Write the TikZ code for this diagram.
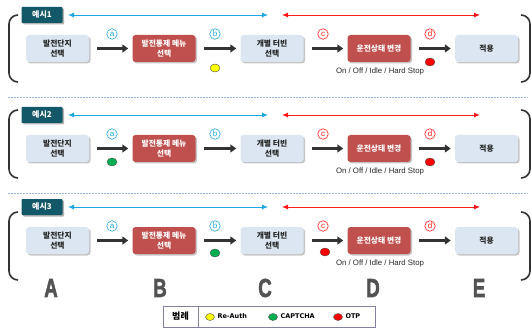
\documentclass[tikz,border=0pt]{standalone}
\usepackage{fontspec}
\setmainfont{Liberation Sans}
\newfontfamily\krfont{Noto Sans CJK KR}
\newfontfamily\legendfont{DejaVu Sans}
\newfontfamily\letterfont{Liberation Sans}[BoldFeatures={FakeBold=2.5}]
\usetikzlibrary{arrows.meta,shadows,shapes.geometric}

\definecolor{tagteal}{HTML}{135868}
\definecolor{boxblue}{HTML}{DCE6F2}
\definecolor{boxred}{HTML}{C0504D}
\definecolor{skyline}{HTML}{1FA8E0}
\definecolor{alertline}{HTML}{FF1A1A}
\definecolor{flowgray}{HTML}{333333}
\definecolor{sepblue}{HTML}{9DB8E0}
\definecolor{legendframe}{HTML}{8080A0}
\definecolor{dotyellow}{HTML}{FFFF00}
\definecolor{dotgreen}{HTML}{00B050}
\definecolor{dotred}{HTML}{FF0000}

\tikzset{
  stagebox/.style={rounded corners=3pt, minimum width=63pt, minimum height=27pt,
    align=center, inner sep=1pt,
    font=\krfont\bfseries\fontsize{7.8}{10}\selectfont,
    drop shadow={shadow xshift=1.5pt, shadow yshift=-1.5pt, fill=black!45, opacity=0.5}},
  lightbox/.style={stagebox, fill=boxblue, text=black!85},
  redbox/.style={stagebox, fill=boxred, text=white},
  tagbox/.style={fill=tagteal, minimum width=41pt, minimum height=16pt, inner sep=0pt,
    rounded corners=0.8pt, text=white, font=\krfont\bfseries\fontsize{8}{8}\selectfont,
    drop shadow={shadow xshift=1.5pt, shadow yshift=-1.5pt, fill=black!50, opacity=0.6}},
  flowarrow/.style={draw=flowgray, line width=2.6pt,
    -{Triangle[length=6pt,width=8pt]}, shorten <=8pt, shorten >=4pt},
  spanline/.style={line width=0.9pt,
    {Latex[length=6pt,width=5pt]}-{Latex[length=6pt,width=5pt]}},
  stepmark/.style={circle, draw, line width=0.6pt, inner sep=0pt, minimum size=10.5pt,
    font=\fontsize{8}{8}\selectfont},
  bluemark/.style={stepmark, draw=skyline, text=skyline},
  redmark/.style={stepmark, draw=alertline, text=alertline},
  authdot/.style={ellipse, draw=black!70, line width=0.4pt, minimum width=10pt,
    minimum height=8pt, inner sep=0pt},
  modetext/.style={font=\fontsize{7.8}{8}\selectfont, text=black!85},
  bracketline/.style={draw=flowgray, line width=1.6pt},
  sepline/.style={draw=sepblue, line width=0.6pt, dash pattern=on 1.5pt off 1.5pt},
  stageletter/.style={font=\letterfont\bfseries\fontsize{26}{26}\selectfont, text=black!68},
  legendtext/.style={font=\legendfont\bfseries\fontsize{6.5}{7}\selectfont, anchor=west}
}

\begin{document}
\begin{tikzpicture}[x=1pt,y=-1pt]
\useasboundingbox (0,0) rectangle (531,329);

% three scenario rows
\foreach \row/\dy/\btop/\bbot in {1/0/15/82, 2/100/110/178, 3/192/212/280} {
  \node[tagbox] (tag\row) at (42,\dy+15) {예시\row};
  \coordinate (bs\row) at (68,\dy+15);
  \coordinate (be\row) at (268,\dy+15);
  \coordinate (rs\row) at (282,\dy+15);
  \coordinate (re\row) at (480,\dy+15);
  \draw[spanline, skyline] (bs\row) -- (be\row);
  \draw[spanline, alertline] (rs\row) -- (re\row);

  \node[lightbox] (A\row) at (57.5,\dy+48.5) {발전단지\\선택};
  \node[redbox]   (B\row) at (164,\dy+48.5) {발전통제 메뉴\\선택};
  \node[lightbox] (C\row) at (272,\dy+48.5) {개별 터빈\\선택};
  \node[redbox]   (D\row) at (379,\dy+48.5) {운전상태 변경};
  \node[lightbox] (E\row) at (486.5,\dy+48.5) {적용};

  \draw[flowarrow] (A\row) -- (B\row);
  \draw[flowarrow] (B\row) -- (C\row);
  \draw[flowarrow] (C\row) -- (D\row);
  \draw[flowarrow] (D\row) -- (E\row);

  \node[bluemark] (ma\row) at (112,\dy+34) {a};
  \node[bluemark] (mb\row) at (215,\dy+34) {b};
  \node[redmark]  (mc\row) at (323,\dy+34) {c};
  \node[redmark]  (md\row) at (430,\dy+34) {d};

  \node[modetext] (mode\row) at (380,\dy+71) {On / Off / Idle / Hard Stop};

  \draw[bracketline] (18,\btop) to[out=180,in=90] (9,\btop+9) -- (9,\bbot-9)
    to[out=270,in=180] (18,\bbot);
  \draw[bracketline] (521,\btop) to[out=0,in=90] (530,\btop+9) -- (530,\bbot-9)
    to[out=270,in=0] (521,\bbot);
}

% authentication points
\node[authdot, fill=dotyellow] (p1) at (215,68) {};
\node[authdot, fill=dotred]    (p2) at (430,62) {};
\node[authdot, fill=dotgreen]  (p3) at (112,162) {};
\node[authdot, fill=dotred]    (p4) at (430,162) {};
\node[authdot, fill=dotgreen]  (p5) at (215,253) {};
\node[authdot, fill=dotred]    (p6) at (325,252) {};

% separators
\draw[sepline] (8,97) -- (528,97);
\draw[sepline] (8,193) -- (528,193);

% stage letters
\node[stageletter] (lA) at (51,288) {\scalebox{0.72}[1]{A}};
\node[stageletter] (lB) at (160,288) {\scalebox{0.72}[1]{B}};
\node[stageletter] (lC) at (265,288) {\scalebox{0.72}[1]{C}};
\node[stageletter] (lD) at (373,288) {\scalebox{0.72}[1]{D}};
\node[stageletter] (lE) at (479,288) {\scalebox{0.72}[1]{E}};

% legend
\draw[draw=legendframe, line width=0.9pt] (163,306) rectangle (375,327);
\draw[draw=legendframe, line width=0.9pt] (198,306) -- (198,327);
\node[font=\krfont\bfseries\fontsize{9}{9}\selectfont] (lg) at (180.5,316.5) {범례};
\node[authdot, fill=dotyellow, minimum width=9pt, minimum height=7pt] (ly) at (210,317) {};
\node[legendtext] (lyt) at (214,316.5) {Re-Auth};
\node[authdot, fill=dotgreen, minimum width=9pt, minimum height=7pt] (lgn) at (273,317) {};
\node[legendtext] (lgt) at (277,316.5) {CAPTCHA};
\node[authdot, fill=dotred, minimum width=9pt, minimum height=7pt] (lr) at (338,317) {};
\node[legendtext] (lrt) at (342,316.5) {OTP};
\end{tikzpicture}
\end{document}
